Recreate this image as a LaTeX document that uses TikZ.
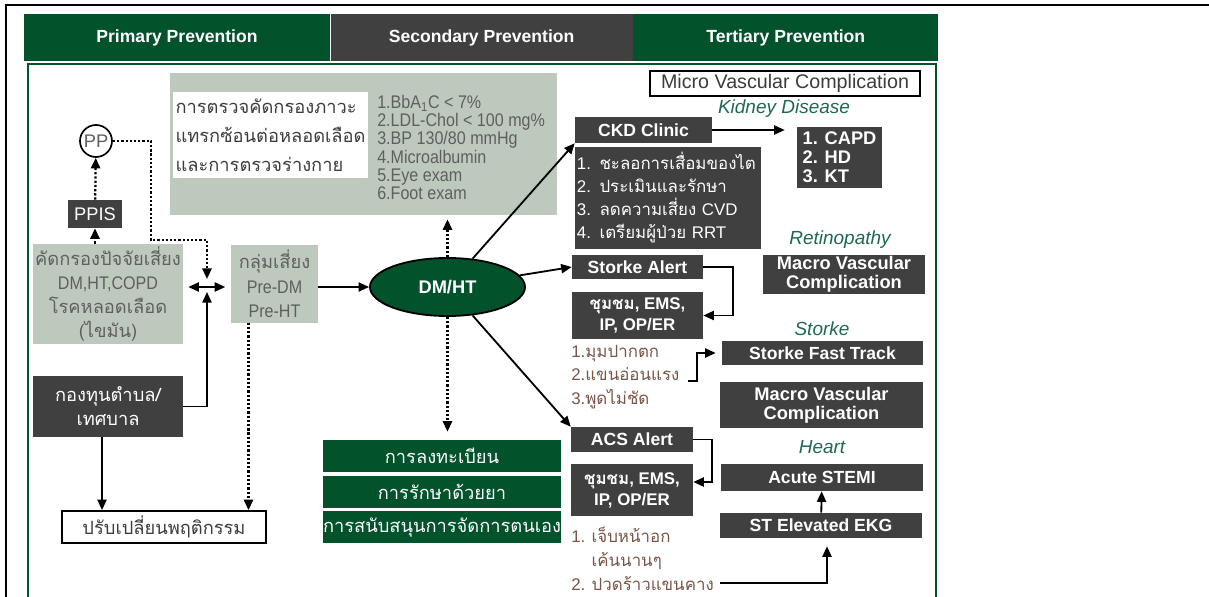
\documentclass[tikz,border=0pt]{standalone}
\usepackage{fontspec}
\setmainfont{Liberation Sans}
\newfontfamily\thaifont[Script=Thai]{Loma}
\newfontfamily\narrowfont[FakeStretch=0.88]{Liberation Sans}
\usetikzlibrary{arrows.meta,positioning,shapes.geometric,calc}

\definecolor{hgreen}{RGB}{2,82,44}
\definecolor{hgray}{RGB}{64,64,64}
\definecolor{sage}{RGB}{190,201,189}
\definecolor{txtgray}{RGB}{95,95,95}
\definecolor{txtdark}{RGB}{60,60,60}
\definecolor{headteal}{RGB}{30,105,80}
\definecolor{signbrown}{RGB}{120,85,70}
\newcommand{\fsz}[2]{\fontsize{#1pt}{#2pt}\selectfont}

\begin{document}
\begin{tikzpicture}[x=0.025cm, y=-0.025cm,
	box/.style={rectangle, inner sep=0pt, align=center},
	darkbox/.style={box, fill=hgray, text=white},
	greenbox/.style={box, fill=hgreen, text=white},
	sagebox/.style={box, fill=sage, text=txtgray},
	linebox/.style={box, draw=black, line width=1.2pt, fill=white},
	hdr/.style={minimum height=1.175cm, font=\bfseries\fsz{12.5}{14}},
	stack/.style={minimum width=5.95cm, minimum height=0.8cm, font=\thaifont\fsz{13}{15}},
	boldtext/.style={font=\bfseries\fsz{12.5}{14}},
	tag/.style={text=headteal, font=\itshape\fsz{13.5}{15}, inner sep=0pt},
	arr/.style={-{Triangle[length=7.5pt,width=6.5pt]}, line width=1.3pt},
	dbl/.style={{Triangle[length=7.5pt,width=6.5pt]}-{Triangle[length=7.5pt,width=6.5pt]}, line width=1.3pt},
	dotarr/.style={arr, line width=1.6pt, dash pattern=on 1.6pt off 1.4pt}]
	\useasboundingbox (0,0) rectangle (1209,597);
	\draw[line width=1.5pt] (6,597) -- (6,5) -- (1209,5);
	\draw[hgreen, line width=1.2pt] (28,597) -- (28,64) -- (936,64) -- (936,597);

	\node[greenbox, hdr, minimum width=7.65cm] (hprim) at (177,37.5) {Primary Prevention};
	\node[darkbox, hdr, minimum width=7.55cm, right=0pt of hprim] (hsec) {Secondary Prevention};
	\node[greenbox, hdr, minimum width=7.625cm, right=0pt of hsec] (hter) {Tertiary Prevention};

	\node[sagebox, minimum width=9.675cm, minimum height=3.55cm] (exam) at (363.5,144) {};
	\node[box, fill=white, text=txtdark, align=left, minimum width=4.85cm, minimum height=2.15cm, font=\thaifont\fsz{13}{20.5}] (examtxt) at (270.5,135) {การตรวจคัดกรองภาวะ\\แทรกซ้อนต่อหลอดเลือด\\และการตรวจร่างกาย};
	\node[box, anchor=west, align=left, text=txtgray, font=\narrowfont\fsz{13}{13}] (examlist) at (377,147.5) {1.BbA\textsubscript{1}C < 7\%\\2.LDL-Chol < 100 mg\%\\3.BP 130/80 mmHg\\4.Microalbumin\\5.Eye exam\\6.Foot exam};

	\node[circle, draw, line width=1.2pt, fill=white, minimum size=0.8cm, inner sep=0pt, text=txtgray, font=\fsz{13}{14}] (pp) at (96,141) {PP};
	\node[darkbox, minimum width=1.325cm, minimum height=0.7cm, font=\fsz{13}{14}] (ppis) at (95,214) {PPIS};
	\node[sagebox, minimum width=3.75cm, minimum height=2.5cm, font=\fsz{13}{17}] (screen) at (108,294) {{\thaifont คัดกรองปัจจัยเสี่ยง}\\{\narrowfont DM,HT,COPD}\\{\thaifont โรคหลอดเลือด}\\{\thaifont (ไขมัน)}};
	\node[darkbox, minimum width=3.75cm, minimum height=1.525cm, font=\thaifont\fsz{13}{17}] (fund) at (108,406.5) {กองทุนตำบล/\\เทศบาล};
	\node[sagebox, minimum width=2.15cm, minimum height=1.925cm, font=\fsz{13}{17.4}] (risk) at (274.5,284) {{\thaifont กลุ่มเสี่ยง}\\{\narrowfont Pre-DM}\\{\narrowfont Pre-HT}};
	\node[ellipse, draw, line width=1.3pt, fill=hgreen, text=white, minimum width=3.875cm, minimum height=1.45cm, inner sep=0pt, font=\bfseries\fsz{13}{15}] (dm) at (447.5,287) {DM/HT};
	\node[linebox, minimum width=5.1cm, minimum height=0.8cm, text=txtdark, font=\thaifont\fsz{13}{15}] (behav) at (164,527) {ปรับเปลี่ยนพฤติกรรม};

	\node[greenbox, stack] (reg) at (442,456) {การลงทะเบียน};
	\node[greenbox, stack, below=0.075cm of reg] (drug) {การรักษาด้วยยา};
	\node[greenbox, stack, below=0.075cm of drug] (selfcare) {การสนับสนุนการจัดการตนเอง};

	\node[linebox, minimum width=6.75cm, minimum height=0.625cm, text=txtdark, font=\fsz{14}{15}] (micro) at (785,83.5) {Micro Vascular Complication};
	\node[tag] (kidney) at (784,109) {Kidney Disease};
	\node[darkbox, boldtext, minimum width=3.425cm, minimum height=0.65cm] (ckd) at (643.5,130) {CKD Clinic};
	\node[darkbox, align=left, text width=4.55cm, inner xsep=0.05cm, minimum height=2.55cm, font=\fsz{12}{16.5}, below=0.075cm of ckd.south west, anchor=north west] (ckdlist) {1. {\thaifont ชะลอการเสื่อมของไต}\\2. {\thaifont ประเมินและรักษา}\\3. {\thaifont ลดความเสี่ยง} CVD\\4. {\thaifont เตรียมผู้ป่วย} RRT};
	\node[darkbox, align=left, minimum width=2.125cm, minimum height=1.525cm, font=\bfseries\fsz{13}{13.4}] (capd) at (839.5,157.5) {1. CAPD\\2. HD\\3. KT};
	\node[tag] (retina) at (840,240) {Retinopathy};
	\node[darkbox, minimum width=4.05cm, minimum height=0.975cm, font=\bfseries\fsz{13}{13.2}] (retmacro) at (844,274.5) {Macro Vascular\\Complication};

	\node[darkbox, boldtext, minimum width=3.275cm, minimum height=0.6cm] (stalert) at (637.5,267) {Storke Alert};
	\node[darkbox, minimum width=3.275cm, minimum height=1.175cm, font=\bfseries\fsz{12}{15}] (comm1) at (637.5,315.5) {{\thaifont ชุมชม}, EMS,\\IP, OP/ER};
	\node[tag] (stroke) at (822,329) {Storke};
	\node[darkbox, boldtext, minimum width=5.025cm, minimum height=0.6cm] (fast) at (822.5,353) {Storke Fast Track};
	\node[box, anchor=west, align=left, text=signbrown, font=\fsz{12}{16.7}] (stsign) at (571,377) {1.{\thaifont มุมปากตก}\\2.{\thaifont แขนอ่อนแรง}\\3.{\thaifont พูดไม่ชัด}};
	\node[darkbox, minimum width=5.075cm, minimum height=1.15cm, font=\bfseries\fsz{13}{13.2}] (acsmacro) at (821.5,405) {Macro Vascular\\Complication};

	\node[darkbox, boldtext, minimum width=3.05cm, minimum height=0.625cm] (acs) at (632,439.5) {ACS Alert};
	\node[darkbox, minimum width=3.05cm, minimum height=1.3cm, font=\bfseries\fsz{12}{15}] (comm2) at (632,490) {{\thaifont ชุมชม}, EMS,\\IP, OP/ER};
	\node[tag] (heart) at (822,447) {Heart};
	\node[darkbox, boldtext, minimum width=5.05cm, minimum height=0.675cm] (stemi) at (822,477.5) {Acute STEMI};
	\node[darkbox, boldtext, minimum width=5.05cm, minimum height=0.625cm] (ekg) at (821,525.5) {ST Elevated EKG};
	\node[box, anchor=west, align=left, text=signbrown, font=\fsz{12}{17}] (acsign) at (571,559) {1. {\thaifont เจ็บหน้าอก}\\\phantom{1. }{\thaifont เค้นนานๆ}\\2. {\thaifont ปวดร้าวแขนคาง}};

	\coordinate (hub) at (207,287);
	\coordinate (bend) at (151,240);
	\coordinate (weak) at (688,381);
	\coordinate (pain) at (720,583);
	\path[dotarr] (ppis) edge (pp) (screen.north -| ppis) edge (ppis);
	\draw[dotarr] (pp.east) -| (bend) -| ($(hub)+(0,-8)$);
	\draw[dbl, shorten <=0.125cm, shorten >=0.15cm] (screen.east |- hub) -- (risk.west |- hub);
	\draw[arr] (fund.east) -| ($(hub)+(0,5)$);
	\draw[arr] (fund.south) ++(-6,0) coordinate (f1) -- (f1 |- behav.north);
	\draw[dotarr] (risk.south) ++(-26,0) coordinate (r1) -- (r1 |- behav.north);
	\draw[arr] (risk.east |- dm) -- (dm.west);
	\draw[dotarr, shorten >=0.1cm] (dm.north) -- (dm.north |- exam.south);
	\draw[dotarr, shorten >=0.2cm] (dm.south) -- (dm.south |- reg.north);
	\path[arr] (dm) edge (ckd.south west) edge (stalert.west) edge (acs.north west);
	\path[arr] (ckd.east) edge[shorten >=0.3cm] (ckd.east -| capd.west);
	\draw[arr] (stalert.east) -- ++(30,0) |- (comm1.east);
	\draw[arr] (acs.east) -- ++(19,0) |- ([yshift=0.2cm]comm2.east);
	\draw[arr, shorten >=0.15cm] (weak) -- ++(9,0) |- (fast.west);
	\path[arr] (ekg) edge (stemi);
	\draw[arr, shorten >=0.2cm] (pain) -| ([xshift=0.15cm]ekg.south);
\end{tikzpicture}
\end{document}
